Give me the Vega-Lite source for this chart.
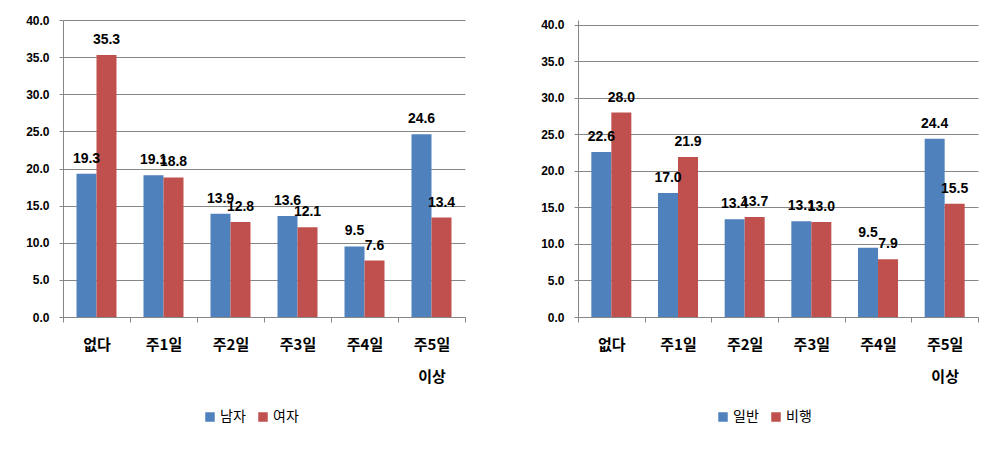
{
  "$schema": "https://vega.github.io/schema/vega-lite/v6.json",
  "padding": {"left": 25, "top": 14, "right": 5, "bottom": 5},
  "background": "white",
  "spacing": 74,
  "config": {
    "font": "Liberation Sans, Noto Sans CJK KR",
    "view": {"stroke": null},
    "axisX": {
      "title": null, "labelAngle": 0, "tickBand": "extent", "tickSize": 5,
      "labelFontSize": 15, "labelFontWeight": "bold", "labelFont": "Noto Sans CJK KR",
      "labelColor": "black", "labelExpr": "split(datum.label, ' ')", "labelLineHeight": 32,
      "labelPadding": 15, "grid": false, "domainColor": "#868686", "tickColor": "#868686"
    },
    "axisY": {
      "title": null, "format": ".1f", "values": [0, 5, 10, 15, 20, 25, 30, 35, 40],
      "labelFontWeight": "bold", "labelFontSize": 12, "labelColor": "black",
      "tickSize": 4, "labelPadding": 10, "domainColor": "#868686", "tickColor": "#868686",
      "gridColor": "#868686", "grid": true
    },
    "legend": {
      "orient": "none", "direction": "horizontal", "title": null, "symbolType": "square",
      "symbolSize": 90, "labelFontSize": 14, "labelFont": "Noto Sans CJK KR", "labelColor": "black",
      "columnPadding": 10, "labelOffset": 3, "symbolStrokeWidth": 0
    }
  },
  "hconcat": [
    {
      "width": 402, "height": 297,
      "data": {"values": [
        {"cat": "없다", "group": "남자", "value": 19.3},
        {"cat": "없다", "group": "여자", "value": 35.3},
        {"cat": "주1일", "group": "남자", "value": 19.1},
        {"cat": "주1일", "group": "여자", "value": 18.8},
        {"cat": "주2일", "group": "남자", "value": 13.9},
        {"cat": "주2일", "group": "여자", "value": 12.8},
        {"cat": "주3일", "group": "남자", "value": 13.6},
        {"cat": "주3일", "group": "여자", "value": 12.1},
        {"cat": "주4일", "group": "남자", "value": 9.5},
        {"cat": "주4일", "group": "여자", "value": 7.6},
        {"cat": "주5일 이상", "group": "남자", "value": 24.6},
        {"cat": "주5일 이상", "group": "여자", "value": 13.4}
      ]},
      "encoding": {
        "x": {"field": "cat", "type": "nominal", "sort": ["없다", "주1일", "주2일", "주3일", "주4일", "주5일 이상"],
              "scale": {"type": "band", "paddingInner": 0, "paddingOuter": 0}},
        "y": {"field": "value", "type": "quantitative", "scale": {"domain": [0, 40], "nice": false}}
      },
      "layer": [
        {
          "transform": [{"filter": {"field": "group", "equal": "남자"}}],
          "mark": {"type": "bar", "width": 20, "xOffset": -10},
          "encoding": {
            "color": {"field": "group", "type": "nominal",
                      "scale": {"domain": ["남자", "여자"], "range": ["#4F81BD", "#C0504D"]},
                      "legend": {"legendX": 140, "legendY": 390}}
          }
        },
        {
          "transform": [{"filter": {"field": "group", "equal": "여자"}}],
          "mark": {"type": "bar", "width": 20, "xOffset": 10},
          "encoding": {
            "color": {"field": "group", "type": "nominal",
                      "scale": {"domain": ["남자", "여자"], "range": ["#4F81BD", "#C0504D"]},
                      "legend": {"legendX": 140, "legendY": 390}}
          }
        },
        {
          "transform": [{"filter": {"field": "group", "equal": "남자"}}],
          "mark": {"type": "text", "baseline": "bottom", "dy": -8, "xOffset": -10, "fontWeight": "bold", "fontSize": 14, "color": "black"},
          "encoding": {"text": {"field": "value", "type": "quantitative", "format": ".1f"}}
        },
        {
          "transform": [{"filter": {"field": "group", "equal": "여자"}}],
          "mark": {"type": "text", "baseline": "bottom", "dy": -8, "xOffset": 10, "fontWeight": "bold", "fontSize": 14, "color": "black"},
          "encoding": {"text": {"field": "value", "type": "quantitative", "format": ".1f"}}
        }
      ]
    },
    {
      "width": 400, "height": 297,
      "data": {"values": [
        {"cat": "없다", "group": "일반", "value": 22.6},
        {"cat": "없다", "group": "비행", "value": 28.0},
        {"cat": "주1일", "group": "일반", "value": 17.0},
        {"cat": "주1일", "group": "비행", "value": 21.9},
        {"cat": "주2일", "group": "일반", "value": 13.4},
        {"cat": "주2일", "group": "비행", "value": 13.7},
        {"cat": "주3일", "group": "일반", "value": 13.1},
        {"cat": "주3일", "group": "비행", "value": 13.0},
        {"cat": "주4일", "group": "일반", "value": 9.5},
        {"cat": "주4일", "group": "비행", "value": 7.9},
        {"cat": "주5일 이상", "group": "일반", "value": 24.4},
        {"cat": "주5일 이상", "group": "비행", "value": 15.5}
      ]},
      "encoding": {
        "x": {"field": "cat", "type": "nominal", "sort": ["없다", "주1일", "주2일", "주3일", "주4일", "주5일 이상"],
              "scale": {"type": "band", "paddingInner": 0, "paddingOuter": 0}},
        "y": {"field": "value", "type": "quantitative", "scale": {"domain": [0, 40.68], "nice": false}}
      },
      "layer": [
        {
          "transform": [{"filter": {"field": "group", "equal": "일반"}}],
          "mark": {"type": "bar", "width": 20, "xOffset": -10},
          "encoding": {
            "color": {"field": "group", "type": "nominal",
                      "scale": {"domain": ["일반", "비행"], "range": ["#4F81BD", "#C0504D"]},
                      "legend": {"legendX": 138, "legendY": 390}}
          }
        },
        {
          "transform": [{"filter": {"field": "group", "equal": "비행"}}],
          "mark": {"type": "bar", "width": 20, "xOffset": 10},
          "encoding": {
            "color": {"field": "group", "type": "nominal",
                      "scale": {"domain": ["일반", "비행"], "range": ["#4F81BD", "#C0504D"]},
                      "legend": {"legendX": 138, "legendY": 390}}
          }
        },
        {
          "transform": [{"filter": {"field": "group", "equal": "일반"}}],
          "mark": {"type": "text", "baseline": "bottom", "dy": -8, "xOffset": -10, "fontWeight": "bold", "fontSize": 14, "color": "black"},
          "encoding": {"text": {"field": "value", "type": "quantitative", "format": ".1f"}}
        },
        {
          "transform": [{"filter": {"field": "group", "equal": "비행"}}],
          "mark": {"type": "text", "baseline": "bottom", "dy": -8, "xOffset": 10, "fontWeight": "bold", "fontSize": 14, "color": "black"},
          "encoding": {"text": {"field": "value", "type": "quantitative", "format": ".1f"}}
        }
      ]
    }
  ],
  "resolve": {"scale": {"color": "independent", "y": "independent"}, "legend": {"color": "independent"}}
}
